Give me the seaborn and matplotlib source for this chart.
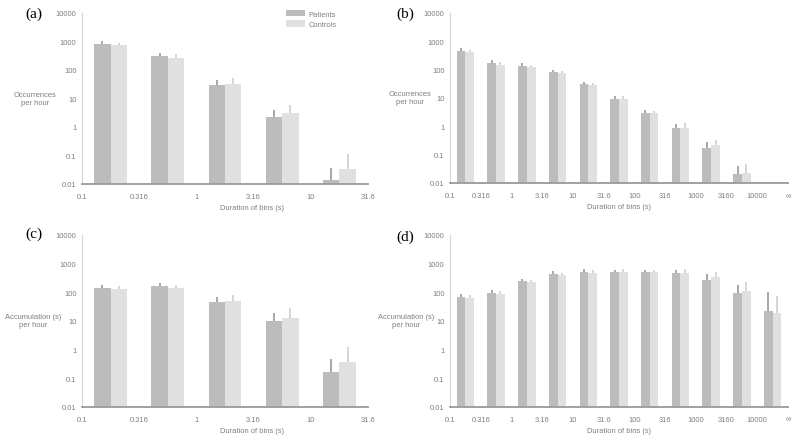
import numpy as np
import pandas as pd
import seaborn as sns
import matplotlib.pyplot as plt

# bin edges (tick labels sit on the bin boundaries)
short_edges = ["0.1", "0.316", "1", "3.16", "10", "31.6"]
long_edges = ["0.1", "0.316", "1", "3.16", "10", "31.6", "100", "316",
              "1000", "3160", "10000", "\u221e"]

# (a) occurrences per hour, short bins
occ_short_pat = [800, 310, 30, 2.2, 0.014]
occ_short_ctl = [730, 270, 32, 3.0, 0.032]
occ_short_pat_top = [1000, 390, 45, 4.0, 0.036]
occ_short_ctl_top = [900, 350, 52, 6.0, 0.11]

# (b) occurrences per hour, long bins (last bin empty)
occ_long_pat = [450, 170, 135, 80, 30, 9.5, 3.0, 0.88, 0.17, 0.020]
occ_long_ctl = [400, 150, 125, 75, 28, 9.5, 3.0, 0.90, 0.21, 0.022]
occ_long_pat_top = [560, 210, 170, 100, 37, 11.5, 3.7, 1.2, 0.27, 0.040]
occ_long_ctl_top = [500, 185, 150, 90, 34, 12.0, 3.5, 1.25, 0.33, 0.045]

# (c) accumulation per hour, short bins
acc_short_pat = [140, 160, 45, 9.5, 0.17]
acc_short_ctl = [130, 140, 48, 13, 0.38]
acc_short_pat_top = [170, 200, 70, 18, 0.45]
acc_short_ctl_top = [160, 180, 80, 27, 1.2]

# (d) accumulation per hour, long bins
acc_long_pat = [70, 95, 240, 430, 500, 500, 500, 450, 260, 95, 22]
acc_long_ctl = [63, 88, 220, 390, 480, 490, 500, 460, 330, 110, 19]
acc_long_pat_top = [85, 120, 290, 560, 620, 600, 610, 600, 430, 180, 100]
acc_long_ctl_top = [80, 105, 270, 470, 580, 620, 600, 620, 520, 220, 75]

groups = ["Patients", "Controls"]
pat_color = "#bcbcbc"
ctl_color = "#e0e0e0"
pat_err = "#a0a0a0"
ctl_err = "#d2d2d2"
txt = "#7f7f7f"
fs = 5.4

sns.set_theme(style="white")
plt.rcParams["font.family"] = ["Liberation Sans", "DejaVu Sans"]


def make_frame(pat, ctl):
    n = len(pat)
    return pd.DataFrame({"bin": list(range(n)) * 2,
                         "group": [groups[0]] * n + [groups[1]] * n,
                         "value": pat + ctl})


def panel(ax, edges, pat, ctl, pat_top, ctl_top, ylab, ylab_x, xlab_x, legend=False):
    nbins = len(edges) - 1
    df = make_frame(pat, ctl)
    sns.barplot(data=df, x="bin", y="value", hue="group", order=list(range(nbins)),
                hue_order=groups, palette=[pat_color, ctl_color], width=0.57,
                errorbar=None, saturation=1, linewidth=0, ax=ax, legend=legend)
    ax.set_yscale("log")
    ax.set_ylim(0.01, 10000)
    ax.set_xlim(-0.5, nbins - 0.5)

    # upward-only error bars
    for cont, tops, col in zip(ax.containers, [pat_top, ctl_top], [pat_err, ctl_err]):
        for bar, top in zip(cont, tops):
            xc = bar.get_x() + bar.get_width() / 2
            ax.vlines(xc, bar.get_height(), top, color=col, lw=1.3, zorder=3)

    ax.set_xticks(np.arange(nbins + 1) - 0.5)
    ax.set_xticklabels(edges)
    yt = [0.01, 0.1, 1, 10, 100, 1000, 10000]
    ax.set_yticks(yt)
    ax.set_yticklabels(["0.01", "0.1", "1", "10", "100", "1000", "10000"])
    ax.minorticks_off()
    ax.tick_params(axis="both", labelsize=fs, colors="#bbbbbb", labelcolor=txt,
                   length=2, width=0.6, pad=2)
    ax.tick_params(axis="x", direction="in", length=3, pad=6.5)

    for s in ["top", "right"]:
        ax.spines[s].set_visible(False)
    ax.spines["left"].set_color("#d5d5d5")
    ax.spines["left"].set_linewidth(0.8)
    ax.spines["bottom"].set_color("#9a9a9a")
    ax.spines["bottom"].set_linewidth(1.3)

    ax.set_xlabel("Duration of bins (s)", fontsize=fs, color=txt)
    ax.xaxis.set_label_coords(xlab_x, -0.12)
    ax.set_ylabel(ylab, fontsize=fs, color=txt, rotation=0, ha="center", va="center")
    ax.yaxis.set_label_coords(ylab_x, 0.5)

    if legend:
        h, l = ax.get_legend_handles_labels()
        ax.legend(h, l, loc="upper left", bbox_to_anchor=(0.70, 1.04), frameon=False,
                  fontsize=fs, labelcolor=txt, handlelength=2.5, handleheight=1.0,
                  handletextpad=0.5, labelspacing=0.3, borderpad=0)


fig = plt.figure(figsize=(8, 4.39), dpi=100)
ax_a = fig.add_axes([0.1025, 0.579, 0.3575, 0.3895])
ax_b = fig.add_axes([0.5625, 0.581, 0.4225, 0.3875])
ax_c = fig.add_axes([0.1025, 0.071, 0.3575, 0.392])
ax_d = fig.add_axes([0.5625, 0.071, 0.4225, 0.392])

panel(ax_a, short_edges, occ_short_pat, occ_short_ctl, occ_short_pat_top, occ_short_ctl_top,
      "Occurrences\nper hour", -0.165, 0.594, legend=True)
panel(ax_b, long_edges, occ_long_pat, occ_long_ctl, occ_long_pat_top, occ_long_ctl_top,
      "Occurrences\nper hour", -0.118, 0.5)
panel(ax_c, short_edges, acc_short_pat, acc_short_ctl, acc_short_pat_top, acc_short_ctl_top,
      "Accumulation (s)\nper hour", -0.17, 0.594)
panel(ax_d, long_edges, acc_long_pat, acc_long_ctl, acc_long_pat_top, acc_long_ctl_top,
      "Accumulation (s)\nper hour", -0.13, 0.5)

for lab, x, y in [("(a)", 0.032, 0.968), ("(b)", 0.496, 0.968),
                  ("(c)", 0.032, 0.467), ("(d)", 0.496, 0.46)]:
    fig.text(x, y, lab, fontsize=11, family=["Liberation Serif", "DejaVu Serif"],
             color="black", va="center", ha="left")

fig.savefig("out.png", dpi=100)
